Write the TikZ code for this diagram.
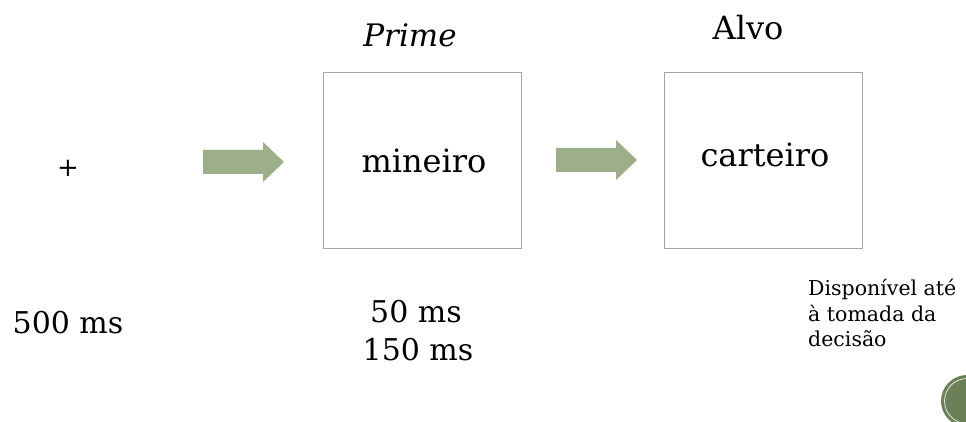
\documentclass[tikz,border=0pt]{standalone}
\usepackage{fontspec}
\setmainfont{DejaVu Serif}
\definecolor{sage}{RGB}{157,175,138}
\definecolor{olive}{RGB}{108,128,88}
\definecolor{framegray}{RGB}{165,165,165}
\tikzset{
  screen/.style={draw=framegray, line width=0.9pt, minimum width=198pt,
    minimum height=176pt, inner sep=0pt},
  word/.style={font=\fontsize{32}{36}\selectfont, anchor=base},
  timing/.style={font=\fontsize{30}{38}\selectfont, anchor=base},
  heading/.style={font=\fontsize{32}{36}\selectfont, anchor=base},
  note/.style={font=\fontsize{20.5}{25.5}\selectfont, anchor=base west, inner sep=0pt},
}
% block arrow: tail at (#1,#2) on the centre line, total length 81, head 21
\newcommand{\blockarrow}[2]{%
  \fill[sage] (#1,#2-12) -- ++(60,0) -- ++(0,-8) -- ++(21,20) -- ++(-21,20)
    -- ++(0,-8) -- ++(-60,0) -- cycle;}
\begin{document}
\begin{tikzpicture}[x=1pt,y=-1pt]
\useasboundingbox (0,0) rectangle (966,422);
\clip (0,0) rectangle (966,422);
\fill[white] (0,0) rectangle (966,422);

% fixation cross
\node[font=\fontsize{26}{30}\selectfont] (fix) at (68,168) {+};

% stimulus screens
\node[screen] (prime) at (422,160) {};
\node[screen] (target) at (763,160) {};

\node[word] (primeword) at (424,173) {mineiro};
\node[word] (targetword) at (765,167) {carteiro};

\node[heading, font=\fontsize{31}{36}\selectfont\itshape] (primelabel) at (410,47) {Prime};
\node[heading] (targetlabel) at (748,40) {Alvo};

% transition arrows
\blockarrow{203}{162}
\blockarrow{556}{160}

% durations
\node[timing] (t1) at (68,333) {500 ms};
\node[timing] (t2a) at (416,322) {50 ms};
\node[timing] (t2b) at (418,360) {150 ms};
\node[note] (t3a) at (808,295) {Disponível até};
\node[note] (t3b) at (808,321) {à tomada da};
\node[note] (t3c) at (808,346) {decisão};

% slide number badge
\fill[olive] (967,401) circle (26);
\draw[white!80!olive, line width=0.8pt] (967,401) circle (22.5);
\end{tikzpicture}
\end{document}
